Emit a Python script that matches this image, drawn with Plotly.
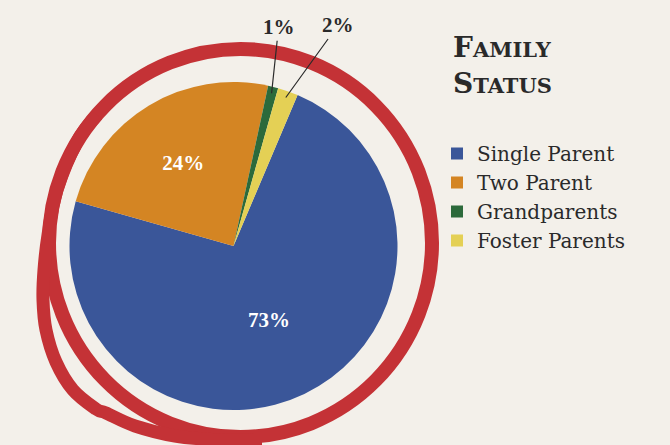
import math
import plotly.graph_objects as go

# ---- data ----
categories = ["Single Parent", "Two Parent", "Grandparents", "Foster Parents"]
values = [73, 24, 1, 2]
pct_labels = ["73%", "24%", "1%", "2%"]
colors = ["#3a5699", "#d48523", "#2c6a3b", "#e4d055"]
title_lines = ["Family", "Status"]

# ---- layout geometry (pixels) ----
W, H = 670, 445
cx, cy, R = 233.5, 246.0, 164.0
rotation = 23
RED = "#c43236"
INK = "#2a2a2a"


def px(x):
    return x / W


def py(y):
    return 1 - y / H


fig = go.Figure()
fig.add_trace(go.Pie(
    labels=categories, values=values, sort=False, direction="clockwise",
    rotation=rotation,
    marker=dict(colors=colors, line=dict(width=0)),
    text=pct_labels, textinfo="text",
    textposition=["inside", "inside", "none", "none"],
    insidetextorientation="horizontal",
    insidetextfont=dict(family="Liberation Serif", size=21, color="white", weight="bold"),
    domain=dict(x=[px(cx - R), px(cx + R)], y=[py(cy + R), py(cy - R)]),
    hoverinfo="label+percent",
))

# leader-line labels for the two small slices, anchored at slice mid-angles
total = float(sum(values))
start = rotation
mids = []
for v in values:
    a1 = start + 360.0 * v / total
    mids.append((start + a1) / 2.0)
    start = a1

offsets = {2: (7, -66), 3: (52, -72)}
annotations = []
for i, (ax, ay) in offsets.items():
    a = math.radians(mids[i])
    tx = cx + 0.96 * R * math.sin(a)
    ty = cy - 0.96 * R * math.cos(a)
    annotations.append(dict(
        x=px(tx), y=py(ty), xref="paper", yref="paper",
        text=pct_labels[i], showarrow=True, arrowhead=0, arrowwidth=1.2,
        arrowcolor=INK, ax=ax, ay=ay,
        font=dict(family="Liberation Serif", size=21, color=INK, weight="bold"),
    ))


# title in small caps
def small_caps(word):
    return f"{word[0].upper()}<span style='font-size:21px'>{word[1:].upper()}</span>"


annotations.append(dict(
    x=px(451), y=py(29), xref="paper", yref="paper", xanchor="left", yanchor="top",
    align="left", showarrow=False,
    text="<b>" + "<br>".join(small_caps(w) for w in title_lines) + "</b>",
    font=dict(family="DejaVu Serif", size=28, color=INK),
))


# hand-drawn red loop (decoration)
def catmull_path(points):
    pts = [(px(x), py(y)) for x, y in points]
    d = f"M{pts[0][0]:.5f},{pts[0][1]:.5f}"
    for k in range(len(pts) - 1):
        p0 = pts[k - 1] if k > 0 else pts[k]
        p1 = pts[k]
        p2 = pts[k + 1]
        p3 = pts[k + 2] if k + 2 < len(pts) else pts[k + 1]
        c1 = (p1[0] + (p2[0] - p0[0]) / 6, p1[1] + (p2[1] - p0[1]) / 6)
        c2 = (p2[0] - (p3[0] - p1[0]) / 6, p2[1] - (p3[1] - p1[1]) / 6)
        d += f" C{c1[0]:.5f},{c1[1]:.5f} {c2[0]:.5f},{c2[1]:.5f} {p2[0]:.5f},{p2[1]:.5f}"
    return d


tail = [(97, 115), (78, 140), (57, 190), (48, 235), (44, 270), (43, 300),
        (46, 330), (56, 362), (73, 390), (96, 409), (106, 413), (135, 426),
        (175, 436), (220, 440), (262, 440)]

shapes = [
    dict(type="circle", xref="paper", yref="paper",
         x0=px(49), x1=px(432), y0=py(437), y1=py(49),
         line=dict(color=RED, width=14)),
    dict(type="path", xref="paper", yref="paper", path=catmull_path(tail),
         line=dict(color=RED, width=13)),
]

fig.update_layout(
    width=W, height=H, autosize=False,
    margin=dict(l=0, r=0, t=0, b=0),
    paper_bgcolor="#f3f0ea", plot_bgcolor="#f3f0ea",
    showlegend=True,
    legend=dict(x=px(437), y=py(134), xanchor="left", yanchor="top",
                font=dict(family="DejaVu Serif", size=20, color=INK),
                bgcolor="rgba(0,0,0,0)", itemclick=False),
    annotations=annotations,
    shapes=shapes,
)

fig.write_html("out.html", config={"displayModeBar": False},
               post_script="document.body.style.margin='0';document.body.style.overflow='hidden';")
